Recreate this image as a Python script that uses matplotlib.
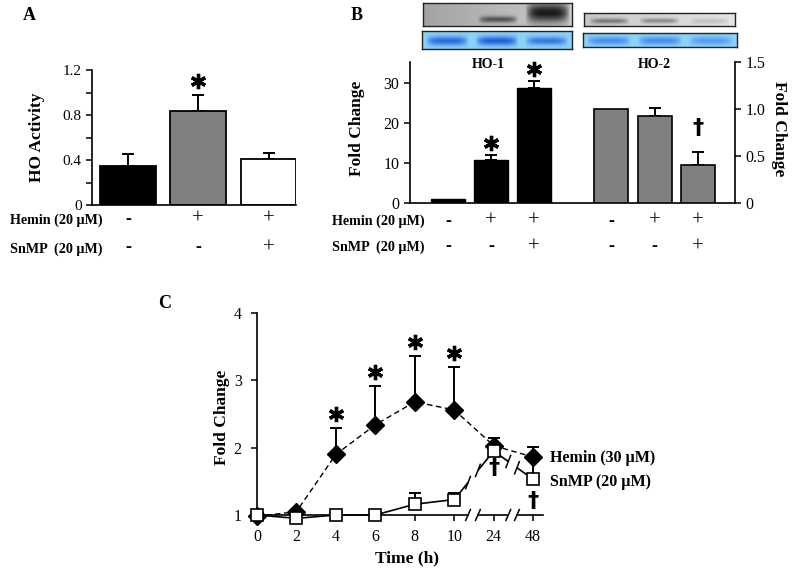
import numpy as np
import matplotlib
matplotlib.use('Agg')
import matplotlib.pyplot as plt
from matplotlib.transforms import blended_transform_factory, offset_copy

plt.rcParams['font.family'] = ['Liberation Serif', 'DejaVu Serif']
plt.rcParams['axes.linewidth'] = 1.2

# ---------------- data ----------------
a_values = [0.35, 0.84, 0.41]
a_errors = [0.10, 0.14, 0.05]
a_colors = ['black', '#808080', 'white']
a_sig = ['', '*', '']
a_hemin = ['-', '+', '+']
a_snmp = ['-', '-', '+']

b_ho1_values = [1.0, 10.8, 28.8]
b_ho1_errors = [0.0, 1.2, 1.6]
b_ho2_values = [1.0, 0.93, 0.40]
b_ho2_errors = [0.0, 0.08, 0.14]
b_ho1_sig = ['', '*', '*']
b_ho2_sig = ['', '', '†']
b_hemin = ['-', '+', '+', '-', '+', '+']
b_snmp = ['-', '-', '+', '-', '-', '+']

blot_ho1 = [0.0, 0.65, 1.0]
blot_ho2 = [0.6, 0.5, 0.18]
load_ho1 = [0.85, 0.95, 0.75]
load_ho2 = [0.7, 0.72, 0.55]

c_times = ['0', '2', '4', '6', '8', '10', '24', '48']
c_hemin = [0.98, 1.05, 1.90, 2.34, 2.68, 2.56, 2.03, 1.86]
c_hemin_err = [0.0, 0.0, 0.39, 0.58, 0.68, 0.64, 0.12, 0.15]
c_snmp = [1.0, 0.95, 1.0, 1.0, 1.16, 1.23, 1.95, 1.53]
c_snmp_err = [0.0, 0.0, 0.0, 0.0, 0.17, 0.09, 0.08, 0.30]
c_hemin_sig = ['', '', '*', '*', '*', '*', '', '']
c_snmp_sig = ['', '', '', '', '', '', '†', '†']

# ---------------- figure ----------------
W, H = 800, 583
fig = plt.figure(figsize=(8, 5.83), dpi=100)


def fbox(x0, y0, x1, y1):
    return [x0 / W, 1 - y1 / H, (x1 - x0) / W, (y1 - y0) / H]


def fy(y):
    return 1 - y / H


BOLD = dict(fontweight='bold')


def star(ax, x, y, dy=13):
    tr = offset_copy(ax.transData, fig=fig, x=0, y=dy, units='dots')
    ax.plot([x], [y], marker=(6, 2, 0), ms=11, mew=2.4, color='black',
            transform=tr, clip_on=False, zorder=5)


def dagger(ax, x, y, dy):
    tr = offset_copy(ax.transData, fig=fig, x=0, y=dy, units='dots')
    ax.text(x, y, '†', transform=tr, ha='center', va='center', fontsize=16,
            fontweight='bold', family=['DejaVu Sans'], zorder=5)


def sign_rows(ax, xs, hem, snm, y1, y2):
    tr = blended_transform_factory(ax.transData, fig.transFigure)
    for x, h, s in zip(xs, hem, snm):
        for sym, yy in ((h, y1), (s, y2)):
            if sym == '+':
                ax.text(x, fy(yy), '+', transform=tr, ha='center', va='center',
                        fontsize=15)
            else:
                ax.text(x, fy(yy), '-', transform=tr, ha='center', va='center',
                        fontsize=13, fontweight='bold')


def up_err(ax, x, v, e, **kw):
    x = np.asarray(x, float); v = np.asarray(v, float); e = np.asarray(e, float)
    m = e > 0
    ax.errorbar(x[m], v[m], yerr=[np.zeros(m.sum()), e[m]], fmt='none',
                ecolor='black', elinewidth=1.4, capsize=4.5, capthick=1.4, **kw)


# ---------------- panel A ----------------
axA = fig.add_axes(fbox(92, 70, 296, 205))
xa = np.arange(len(a_values))
up_err(axA, xa, a_values, a_errors, zorder=1)
axA.bar(xa, a_values, width=0.79, color=a_colors, edgecolor='black',
        linewidth=1.3, zorder=2)
axA.set_xlim(-0.51, 2.39)
axA.set_ylim(0, 1.2)
axA.set_yticks([0, 0.4, 0.8, 1.2])
axA.set_yticklabels(['0', '0.4', '0.8', '1.2'])
axA.set_yticks([0.2, 0.6, 1.0], minor=True)
axA.set_xticks([])
for s in ('top', 'right'):
    axA.spines[s].set_visible(False)
axA.tick_params(axis='y', which='both', direction='out', length=4, width=1.1,
                labelsize=11)
for x, v, e, s in zip(xa, a_values, a_errors, a_sig):
    if s == '*':
        star(axA, x, v + e, 14)
fig.text(37 / W, fy(137), 'HO Activity', rotation=90, ha='center',
         va='center', fontsize=12.5, **BOLD)
fig.text(10 / W, fy(220), 'Hemin (20 µM)', ha='left', va='center',
         fontsize=10.2, **BOLD)
fig.text(10 / W, fy(249), 'SnMP  (20 µM)', ha='left', va='center',
         fontsize=10.2, **BOLD)
sign_rows(axA, xa, a_hemin, a_snmp, 219, 248)
fig.text(29 / W, fy(16), 'A', ha='center', va='center', fontsize=13, **BOLD)

# ---------------- panel B ----------------
axB = fig.add_axes(fbox(410, 62, 735, 203))
axB2 = axB.twinx()
xb1 = np.arange(3)
xb2 = np.arange(3) + 3.8
up_err(axB, xb1, b_ho1_values, b_ho1_errors, zorder=1)
axB.bar(xb1, b_ho1_values, width=0.79, color='black', edgecolor='black',
        linewidth=1, zorder=2)
up_err(axB2, xb2, b_ho2_values, b_ho2_errors, zorder=1)
axB2.bar(xb2, b_ho2_values, width=0.79, color='#808080', edgecolor='black',
         linewidth=1.2, zorder=2)
axB.set_xlim(-0.88, 6.67)
axB.set_ylim(0, 35.25)
axB.set_yticks([0, 10, 20, 30])
axB2.set_ylim(0, 1.5)
axB2.set_yticks([0, 0.5, 1.0, 1.5])
axB2.set_yticklabels(['0', '0.5', '1.0', '1.5'])
axB.set_xticks([])
for s in ('top', 'right'):
    axB.spines[s].set_visible(False)
for s in ('top', 'left', 'bottom'):
    axB2.spines[s].set_visible(False)
for ax in (axB, axB2):
    ax.tick_params(axis='y', direction='out', length=4, width=1.1,
                   labelsize=11.5)
for x, v, e, s in zip(xb1, b_ho1_values, b_ho1_errors, b_ho1_sig):
    if s == '*':
        star(axB, x, v + e, 12)
for x, v, e, s in zip(xb2, b_ho2_values, b_ho2_errors, b_ho2_sig):
    if s == '†':
        dagger(axB2, x, v + e, 24)
trB = blended_transform_factory(axB.transData, fig.transFigure)
axB.text(xb1.mean() - 0.05, fy(64), 'HO-1', transform=trB, ha='center',
         va='center', fontsize=10, **BOLD)
axB.text(xb2.mean(), fy(64), 'HO-2', transform=trB, ha='center',
         va='center', fontsize=10, **BOLD)
fig.text(357 / W, fy(128), 'Fold Change', rotation=90, ha='center',
         va='center', fontsize=12.5, **BOLD)
fig.text(779 / W, fy(129), 'Fold Change', rotation=-90, ha='center',
         va='center', fontsize=12.5, **BOLD)
fig.text(332 / W, fy(221), 'Hemin (20 µM)', ha='left', va='center',
         fontsize=10.2, **BOLD)
fig.text(332 / W, fy(247), 'SnMP  (20 µM)', ha='left', va='center',
         fontsize=10.2, **BOLD)
sign_rows(axB, np.r_[xb1, xb2], b_hemin, b_snmp, 221, 247)
fig.text(357 / W, fy(15), 'B', ha='center', va='center', fontsize=13, **BOLD)


# blots
def draw_blot(rect, bg0, bg1, band_rgb, intens, yc, sy, lane_w):
    ax = fig.add_axes(rect)
    ny, nx = 40, 220
    xx = np.linspace(0, 1, nx)[None, :]
    yy = np.linspace(0, 1, ny)[:, None]
    bg0 = np.array(bg0, float); bg1 = np.array(bg1, float)
    bg = bg0[None, None, :] * (1 - xx[..., None]) + bg1[None, None, :] * xx[..., None]
    bg = np.broadcast_to(bg, (ny, nx, 3))
    alpha = np.zeros((ny, nx))
    for k, a in enumerate(intens):
        xc = (k + 0.5) / 3
        px = np.clip(1 - (np.abs(xx - xc) / (lane_w[k] / 2)) ** 4, 0, 1)
        py = np.exp(-0.5 * ((yy - yc[k]) / sy[k]) ** 2)
        alpha = np.maximum(alpha, a * px * py)
    img = bg * (1 - alpha[..., None]) + np.array(band_rgb)[None, None, :] * alpha[..., None]
    ax.imshow(np.clip(img, 0, 1), extent=[0, 1, 0, 1], aspect='auto',
              interpolation='bilinear')
    ax.set_xticks([]); ax.set_yticks([])
    for s in ax.spines.values():
        s.set_linewidth(1)
        s.set_color('#222222')


draw_blot(fbox(423, 3, 572, 26), (0.64, 0.64, 0.64), (0.80, 0.80, 0.80),
          (0.10, 0.10, 0.10), blot_ho1, [0.7, 0.72, 0.42], [0.1, 0.1, 0.3],
          [0.27, 0.27, 0.3])
draw_blot(fbox(584, 13, 735, 26), (0.78, 0.78, 0.78), (0.90, 0.90, 0.90),
          (0.25, 0.25, 0.25), blot_ho2, [0.62, 0.6, 0.62], [0.14, 0.14, 0.16],
          [0.27, 0.27, 0.27])
draw_blot(fbox(422, 31, 572, 49), (0.55, 0.82, 0.97), (0.55, 0.82, 0.97),
          (0.10, 0.35, 0.85), load_ho1, [0.55, 0.55, 0.55], [0.18, 0.18, 0.16],
          [0.29, 0.29, 0.29])
draw_blot(fbox(583, 33, 737, 47), (0.55, 0.82, 0.97), (0.55, 0.82, 0.97),
          (0.15, 0.45, 0.92), load_ho2, [0.55, 0.55, 0.55], [0.2, 0.2, 0.2],
          [0.29, 0.29, 0.29])

# ---------------- panel C ----------------
axC = fig.add_axes(fbox(257, 313, 543, 515))
xc = np.arange(len(c_times))
up_err(axC, xc, c_hemin, c_hemin_err, zorder=1)
axC.plot(xc, c_hemin, color='black', lw=1, dashes=(4, 2.5), marker='D',
         ms=9, mfc='black', mec='black', clip_on=False, zorder=2)
up_err(axC, xc, c_snmp, c_snmp_err, zorder=3)
axC.plot(xc, c_snmp, color='black', lw=1.2, marker='s', ms=8, mfc='white',
         mec='black', mew=1.2, clip_on=False, zorder=4)
axC.set_xlim(0, 7.25)
axC.set_ylim(1, 4)
axC.set_yticks([1, 2, 3, 4])
axC.set_xticks(xc)
axC.set_xticklabels(c_times)
for s in ('top', 'right', 'bottom'):
    axC.spines[s].set_visible(False)
axC.tick_params(direction='out', length=4, width=1.1, labelsize=11.5)
axC.tick_params(axis='x', pad=6)
axC.tick_params(axis='y', pad=7)
# broken x axis
brk = [(5.35, 5.6), (6.37, 6.59)]
segs = [(0, brk[0][0]), (brk[0][1], brk[1][0]), (brk[1][1], 7.25)]
for a, b in segs:
    axC.plot([a, b], [1, 1], color='black', lw=1.2, clip_on=False, zorder=1)
for pair in brk:
    ys = np.interp(pair, xc, c_snmp)
    axC.plot(pair, ys, color='white', lw=3, solid_capstyle='butt', zorder=4.5)
    for xb in pair:
        axC.plot([xb - 0.06, xb + 0.06], [0.92, 1.08], color='black', lw=1.1,
                 clip_on=False, zorder=5)
        yl = np.interp(xb, xc, c_snmp)
        axC.plot([xb - 0.06, xb + 0.06], [yl - 0.09, yl + 0.09], color='black',
                 lw=1.1, clip_on=False, zorder=5)
for x, v, e, s in zip(xc, c_hemin, c_hemin_err, c_hemin_sig):
    if s == '*':
        star(axC, x, v + e, 14)
dag_off = {6: -17, 7: -22}
for x, v, s in zip(xc, c_snmp, c_snmp_sig):
    if s == '†':
        dagger(axC, x, v, dag_off.get(x, -20))
fig.text(222 / W, fy(417), 'Fold Change', rotation=90, ha='center',
         va='center', fontsize=12.5, **BOLD)
fig.text(407 / W, fy(558), 'Time (h)', ha='center', va='center',
         fontsize=12.5, **BOLD)
fig.text(550 / W, fy(458), 'Hemin (30 µM)', ha='left', va='center',
         fontsize=11.5, **BOLD)
fig.text(550 / W, fy(482), 'SnMP (20 µM)', ha='left', va='center',
         fontsize=11.5, **BOLD)
fig.text(165 / W, fy(303), 'C', ha='center', va='center', fontsize=13, **BOLD)

fig.savefig('out.png', dpi=100)
